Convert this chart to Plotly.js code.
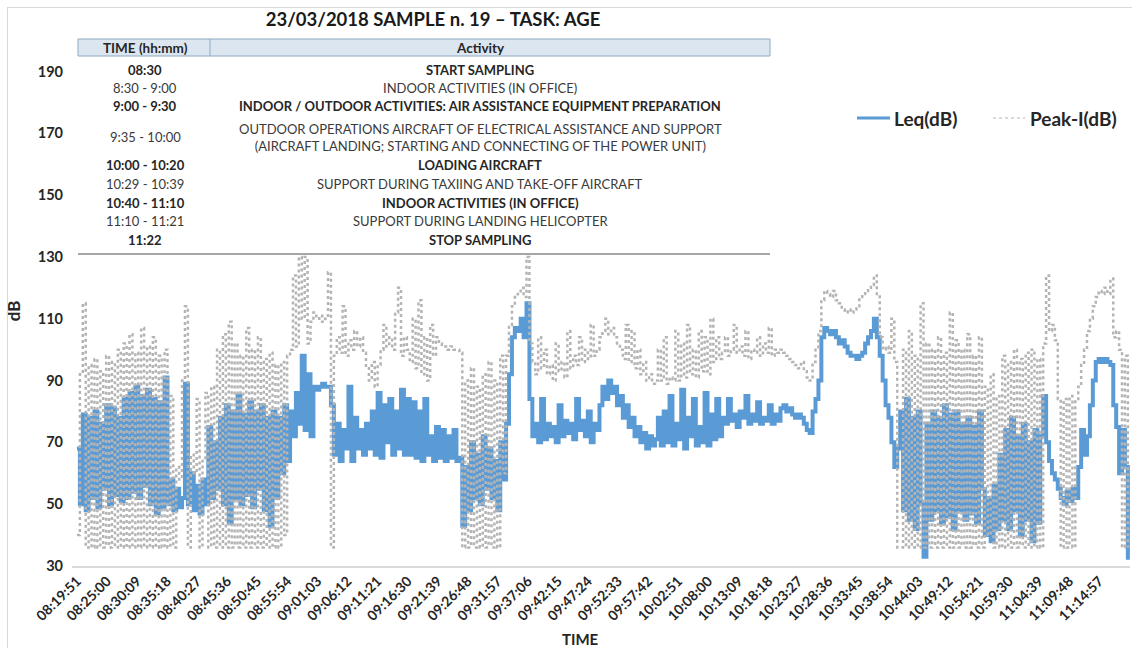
<!DOCTYPE html>
<html><head><meta charset="utf-8">
<script src="https://cdn.plot.ly/plotly-3.0.1.min.js"></script>
<style>
html,body{margin:0;padding:0;background:#fff;overflow:hidden;}
#chart{width:1132px;height:648px;}
#frame{position:absolute;left:7px;top:7px;width:1140px;height:660px;border:1px solid #d9d9d9;pointer-events:none;}
</style>
</head><body>
<div id="chart"></div><div id="frame"></div>
<script>
// ---------- data ----------
const startTime = "08:19:51";
const sampleStepSec = 30;

const leq = [
68,50,79,48,78,52,80,49,76,55,
82,50,81,53,78,51,84,52,86,54,
88,52,85,56,87,50,84,47,83,49,
91,50,58,48,55,49,52,89,50,60,
48,56,47,58,50,75,52,70,55,78,
50,82,44,80,52,85,50,79,53,83,
49,80,55,82,48,78,43,80,52,78,
60,82,64,80,72,86,76,98,74,92,
72,88,87,88,89,88,88,82,66,76,
64,74,68,88,64,78,68,74,66,76,
68,80,66,86,65,82,70,84,66,80,
68,87,66,84,66,83,65,80,64,84,
66,72,64,75,65,74,64,72,65,74,
64,65,43,62,48,70,52,66,50,72,
55,68,52,64,48,70,58,76,92,104,
107,106,110,104,115,84,72,76,70,84,
71,76,72,75,70,82,72,77,73,76,
71,84,74,77,72,80,70,76,74,82,
88,84,90,86,88,82,85,78,82,75,
78,72,75,70,73,68,72,69,71,78,
69,80,70,85,69,76,71,87,68,78,
72,84,69,75,70,86,69,79,71,84,
72,78,76,84,77,79,75,80,78,85,
76,79,77,83,76,78,77,82,76,79,
77,81,82,80,81,79,78,79,78,76,
74,73,80,84,90,104,107,106,105,106,
104,102,103,101,99,98,98,97,98,99,
102,104,106,110,104,98,90,82,78,70,
62,68,80,48,84,45,78,42,80,50,
33,76,45,80,48,78,44,82,46,79,
42,80,48,76,45,78,47,75,44,80,
55,40,52,38,56,42,66,45,74,42,
78,48,72,40,76,45,70,38,74,44,
72,85,70,64,60,58,55,52,50,54,
51,55,52,62,74,66,72,82,90,96,
97,96,97,96,95,82,75,60,74,62,
32
];

const peak = [
40,92,115,36,95,36,97,36,93,36,
98,36,96,36,100,36,102,36,105,36,
99,36,107,36,101,36,104,36,98,36,
100,36,85,36,62,58,90,114,36,66,
60,84,36,64,86,36,88,36,100,36,
105,36,109,36,102,36,98,36,107,36,
100,36,104,36,97,36,99,36,95,36,
96,40,98,100,124,101,130,110,130,102,
109,112,110,111,109,110,125,36,98,104,
99,114,98,103,100,106,101,104,99,94,
90,96,88,95,100,108,101,104,100,112,
120,98,104,100,96,110,94,116,92,104,
90,108,98,104,102,101,101,100,101,100,
100,99,36,90,36,94,36,88,36,92,
36,96,36,90,36,98,60,98,108,114,
117,118,120,117,130,102,96,92,104,94,
100,92,95,90,102,93,96,91,106,94,
98,95,104,96,100,97,108,98,100,104,
106,110,105,107,104,102,100,97,108,96,
106,94,100,92,96,90,92,89,90,100,
90,104,89,91,90,106,90,102,91,108,
92,100,91,106,93,104,92,110,96,104,
97,99,104,98,100,108,99,101,98,106,
97,100,99,104,98,102,99,107,98,100,
99,100,99,98,97,96,95,94,96,93,
91,90,96,100,106,116,119,118,117,119,
116,115,113,112,113,112,113,114,117,118,
119,120,121,124,118,104,100,101,99,110,
96,36,36,100,36,106,36,98,36,115,
36,102,36,100,36,104,36,99,36,112,
36,103,36,100,36,105,36,98,36,104,
36,88,40,92,36,85,36,98,36,96,
36,100,36,97,36,99,36,100,36,97,
36,102,124,106,108,103,84,36,84,36,
85,36,84,88,95,100,106,110,114,117,
119,118,120,118,123,104,106,100,36,98,
36
];

const seriesNames = ["Leq(dB)", "Peak-I(dB)"];

const xTickLabels = [
"08:19:51","08:25:00","08:30:09","08:35:18","08:40:27","08:45:36","08:50:45","08:55:54",
"09:01:03","09:06:12","09:11:21","09:16:30","09:21:39","09:26:48","09:31:57","09:37:06",
"09:42:15","09:47:24","09:52:33","09:57:42","10:02:51","10:08:00","10:13:09","10:18:18",
"10:23:27","10:28:36","10:33:45","10:38:54","10:44:03","10:49:12","10:54:21","10:59:30",
"11:04:39","11:09:48","11:14:57"
];
const yTickValues = [30,50,70,90,110,130,150,170,190];

const tableHeader = ["TIME (hh:mm)", "Activity"];
const tableTimes = ["08:30","8:30 - 9:00","9:00 - 9:30","9:35 - 10:00","10:00 - 10:20","10:29 - 10:39","10:40 - 11:10","11:10 - 11:21","11:22"];
const tableActivities = [
"START SAMPLING",
"INDOOR ACTIVITIES (IN OFFICE)",
"INDOOR / OUTDOOR ACTIVITIES: AIR ASSISTANCE EQUIPMENT PREPARATION",
"OUTDOOR OPERATIONS AIRCRAFT OF ELECTRICAL ASSISTANCE AND SUPPORT<br>(AIRCRAFT LANDING; STARTING AND CONNECTING OF THE POWER UNIT)",
"LOADING AIRCRAFT",
"SUPPORT DURING TAXIING AND TAKE-OFF AIRCRAFT",
"INDOOR ACTIVITIES (IN OFFICE)",
"SUPPORT DURING LANDING HELICOPTER",
"STOP SAMPLING"
];
const tableBold = [true,false,true,false,true,false,true,false,true];

// ---------- helpers ----------
function toSec(s){const p=s.split(':').map(Number);return p[0]*3600+p[1]*60+(p[2]||0);}
const t0 = toSec(startTime);
const xs = leq.map((_,i)=>i*sampleStepSec);
const tickVals = xTickLabels.map(l=>toSec(l)-t0);

// layout geometry (pixels)
const W=1132,H=648, ML=72, MR=2, MT=56, MB=82;
const PW=W-ML-MR, PH=H-MT-MB;
const px2x = px => (px-ML)/PW;
const py2y = py => (H-MB-py)/PH;

const FONT = "Lato, 'Open Sans', sans-serif";
const dark = "#262626";
const leqColor = '#5B9BD5', peakColor = '#B4B4B4';

// table layout positions
const rowY = [70,88,106,137,165,184,203,221,240];
const colTimeX = 145, colActX = 480;
const tblLeft = 78, tblRight = 770, tblDiv = 210, hdrTop = 39, hdrBot = 56, hdrY = 47.5, tblLineY = 254;
const tblFont = 13;

const annotations = [];
annotations.push({xref:'paper',yref:'paper',x:px2x(colTimeX),y:py2y(hdrY),text:tableHeader[0],showarrow:false,
  font:{family:FONT,size:13.5,color:dark,weight:'bold'},xanchor:'center',yanchor:'middle'});
annotations.push({xref:'paper',yref:'paper',x:px2x(colActX),y:py2y(hdrY),text:tableHeader[1],showarrow:false,
  font:{family:FONT,size:13.5,color:dark,weight:'bold'},xanchor:'center',yanchor:'middle'});
tableTimes.forEach((t,i)=>{
  const f={family:FONT,size:tblFont,color:tableBold[i]?dark:'#3a3a3a',weight:tableBold[i]?'bold':'normal'};
  annotations.push({xref:'paper',yref:'paper',x:px2x(colTimeX),y:py2y(rowY[i]),text:t,showarrow:false,font:f,xanchor:'center',yanchor:'middle'});
  annotations.push({xref:'paper',yref:'paper',x:px2x(colActX),y:py2y(rowY[i]),text:tableActivities[i],showarrow:false,font:f,xanchor:'center',yanchor:'middle',align:'center'});
});
annotations.push({xref:'paper',yref:'paper',x:px2x(580),y:py2y(639),text:'TIME',showarrow:false,
  font:{family:FONT,size:15,color:dark,weight:'bold'},xanchor:'center',yanchor:'middle'});

// manual legend (positions in px)
const legY = 118;
annotations.push({xref:'paper',yref:'paper',x:px2x(892),y:py2y(legY),text:seriesNames[0],showarrow:false,
  font:{family:FONT,size:19,color:dark,weight:'bold'},xanchor:'left',yanchor:'middle'});
annotations.push({xref:'paper',yref:'paper',x:px2x(1028),y:py2y(legY),text:seriesNames[1],showarrow:false,
  font:{family:FONT,size:19,color:dark,weight:'bold'},xanchor:'left',yanchor:'middle'});

const shapes = [
  {type:'rect',xref:'paper',yref:'paper',x0:px2x(tblLeft),x1:px2x(tblRight),y0:py2y(hdrBot),y1:py2y(hdrTop),
   fillcolor:'#DCE6F1',line:{color:'#8EA9C1',width:1},layer:'above'},
  {type:'line',xref:'paper',yref:'paper',x0:px2x(tblDiv),x1:px2x(tblDiv),y0:py2y(hdrBot),y1:py2y(hdrTop),
   line:{color:'#8EA9C1',width:1},layer:'above'},
  {type:'line',xref:'paper',yref:'paper',x0:px2x(tblLeft),x1:px2x(tblRight),y0:py2y(tblLineY),y1:py2y(tblLineY),
   line:{color:'#A6A6A6',width:2},layer:'above'},
  {type:'line',xref:'paper',yref:'paper',x0:px2x(857),x1:px2x(890),y0:py2y(legY),y1:py2y(legY),
   line:{color:leqColor,width:3},layer:'above'},
  {type:'line',xref:'paper',yref:'paper',x0:px2x(993),x1:px2x(1025),y0:py2y(legY),y1:py2y(legY),
   line:{color:peakColor,width:1,dash:'dot'},layer:'above'}
];

const traces = [
  {type:'scatter',mode:'lines',name:seriesNames[0],x:xs,y:leq,line:{color:leqColor,width:4,shape:'hv'},showlegend:false},
  {type:'scatter',mode:'lines',name:seriesNames[1],x:xs,y:peak,line:{color:peakColor,width:2.5,dash:'dot',shape:'hv'},showlegend:false}
];

const layout = {
  width:W,height:H,margin:{l:ML,r:MR,t:MT,b:MB,pad:0},
  paper_bgcolor:'#fff',plot_bgcolor:'rgba(0,0,0,0)',
  font:{family:FONT,color:dark},
  title:{text:'23/03/2018 SAMPLE n. 19 – TASK: AGE',x:433/W,xref:'container',xanchor:'center',
         y:1-20/H,yref:'container',yanchor:'middle',font:{family:FONT,size:18.5,color:'#1a1a1a',weight:'bold'}},
  xaxis:{range:[-51,10822],tickvals:tickVals,ticktext:xTickLabels,tickangle:-45,ticks:'',
         showgrid:false,zeroline:false,showline:true,linecolor:'#D9D9D9',linewidth:1.5,
         tickfont:{family:FONT,size:14,color:dark,weight:'bold'},automargin:false},
  yaxis:{range:[30,195],tickvals:yTickValues,ticks:'',showgrid:false,zeroline:false,showline:false,
         tickfont:{family:FONT,size:14.5,color:dark,weight:'bold'},ticklabelstandoff:8,automargin:false,
         title:{text:'dB',font:{family:FONT,size:17,color:dark,weight:'bold'},standoff:12}},
  showlegend:false,
  annotations:annotations,shapes:shapes
};

Plotly.newPlot('chart',traces,layout,{staticPlot:true,displayModeBar:false});
</script>
</body></html>
